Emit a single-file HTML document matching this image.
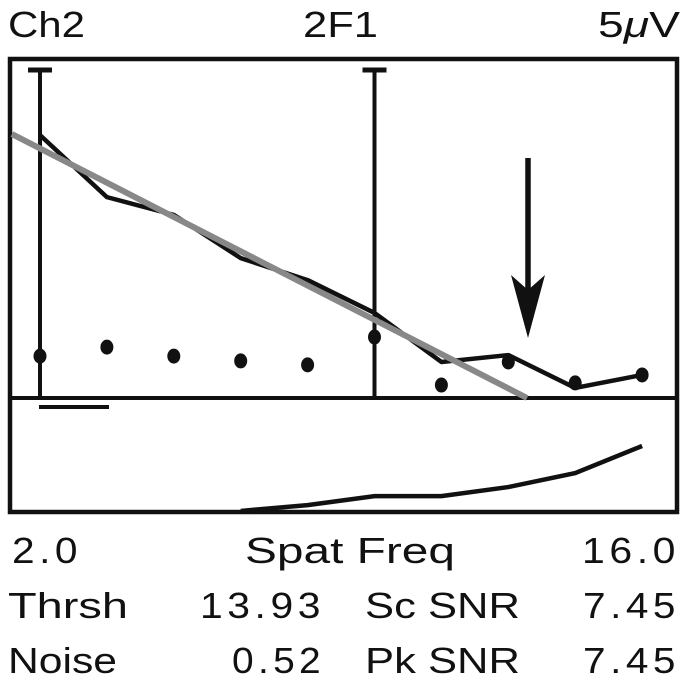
<!DOCTYPE html>
<html><head><meta charset="utf-8"><style>
body{margin:0;background:#fff;width:685px;height:684px;overflow:hidden}
svg text{font-family:"Liberation Sans",sans-serif;fill:#111}
.num{letter-spacing:4px}
</style></head><body>
<svg width="685" height="684" viewBox="0 0 685 684">
<g id="plot"></g>
<text x="8" y="37" font-size="36" textLength="77" lengthAdjust="spacingAndGlyphs">Ch2</text>
<text x="303" y="37" font-size="36" textLength="75" lengthAdjust="spacingAndGlyphs">2F1</text>
<text x="598" y="37" font-size="36" textLength="82" lengthAdjust="spacingAndGlyphs">5<tspan font-style="italic">μ</tspan>V</text>
<text class="num" x="12" y="563" font-size="36" textLength="70" lengthAdjust="spacingAndGlyphs">2.0</text>
<text x="245" y="563" font-size="36" textLength="210" lengthAdjust="spacingAndGlyphs">Spat Freq</text>
<text class="num" x="582" y="563" font-size="36" textLength="98" lengthAdjust="spacingAndGlyphs">16.0</text>
<text x="8" y="618" font-size="36" textLength="120" lengthAdjust="spacingAndGlyphs">Thrsh</text>
<text class="num" x="200" y="618" font-size="36" textLength="125" lengthAdjust="spacingAndGlyphs">13.93</text>
<text x="365" y="618" font-size="36" textLength="155" lengthAdjust="spacingAndGlyphs">Sc SNR</text>
<text class="num" x="583" y="618" font-size="36" textLength="97" lengthAdjust="spacingAndGlyphs">7.45</text>
<text x="8" y="673" font-size="36" textLength="109" lengthAdjust="spacingAndGlyphs">Noise</text>
<text class="num" x="232" y="673" font-size="36" textLength="93" lengthAdjust="spacingAndGlyphs">0.52</text>
<text x="365" y="673" font-size="36" textLength="155" lengthAdjust="spacingAndGlyphs">Pk SNR</text>
<text class="num" x="583" y="673" font-size="36" textLength="97" lengthAdjust="spacingAndGlyphs">7.45</text>
</svg>
<script>
const freqIndex=[0,1,2,3,4,5,6,7,8,9];
const amplitude=[9.92,7.58,6.91,5.28,4.45,3.21,1.36,1.62,0.38,0.87];
const noiseDots=[1.58,1.92,1.58,1.40,1.25,2.30,0.49,1.36,0.57,0.87];
const phaseIndex=[3,4,5,6,7,8,9];
const phaseVals=[0.04,0.26,0.60,0.60,0.94,1.47,2.49];
const fitLine=[[-0.42,9.96],[7.28,0]];
const xs=i=>40+i*66.9;
const ys=v=>398-v*26.5;
const ys2=v=>512-v*26.5;
const NS="http://www.w3.org/2000/svg";
const g=document.getElementById('plot');
function mk(t,a){const e=document.createElementNS(NS,t);for(const k in a)e.setAttribute(k,a[k]);g.appendChild(e);return e;}
let e;
e=mk('rect',{x:10,y:59,width:667,height:453,fill:'none',stroke:'#111','stroke-width':4.5});


e=mk('line',{x1:10,y1:398,x2:677,y2:398,stroke:'#111','stroke-width':4});


[0,5].forEach(i=>{
 e=mk('line',{x1:xs(i),y1:68,x2:xs(i),y2:398,stroke:'#111','stroke-width':4});
 
 
 e=mk('line',{x1:xs(i)-12,y1:70,x2:xs(i)+12,y2:70,stroke:'#111','stroke-width':5});
 
 
});
e=mk('line',{x1:39,y1:407,x2:109,y2:407,stroke:'#111','stroke-width':4});


e=mk('polyline',{points:freqIndex.map((f,i)=>xs(f)+','+ys(amplitude[i])).join(' '),fill:'none',stroke:'#111','stroke-width':4.5,'stroke-linejoin':'round'});


e=mk('line',{x1:xs(fitLine[0][0]),y1:ys(fitLine[0][1]),x2:xs(fitLine[1][0]),y2:ys(fitLine[1][1]),stroke:'#888','stroke-width':6});


freqIndex.forEach((f,i)=>{
 e=mk('ellipse',{cx:xs(f),cy:ys(noiseDots[i]),rx:6.5,ry:7.5,fill:'#111'});
 
 
});
e=mk('polyline',{points:phaseIndex.map((f,i)=>xs(f)+','+ys2(phaseVals[i])).join(' '),fill:'none',stroke:'#111','stroke-width':4.5});


e=mk('line',{x1:528,y1:158,x2:528,y2:300,stroke:'#111','stroke-width':5.5});


e=mk('polygon',{points:'511,275 528,290 545,275 528,338',fill:'#111'});


</script>
</body></html>
